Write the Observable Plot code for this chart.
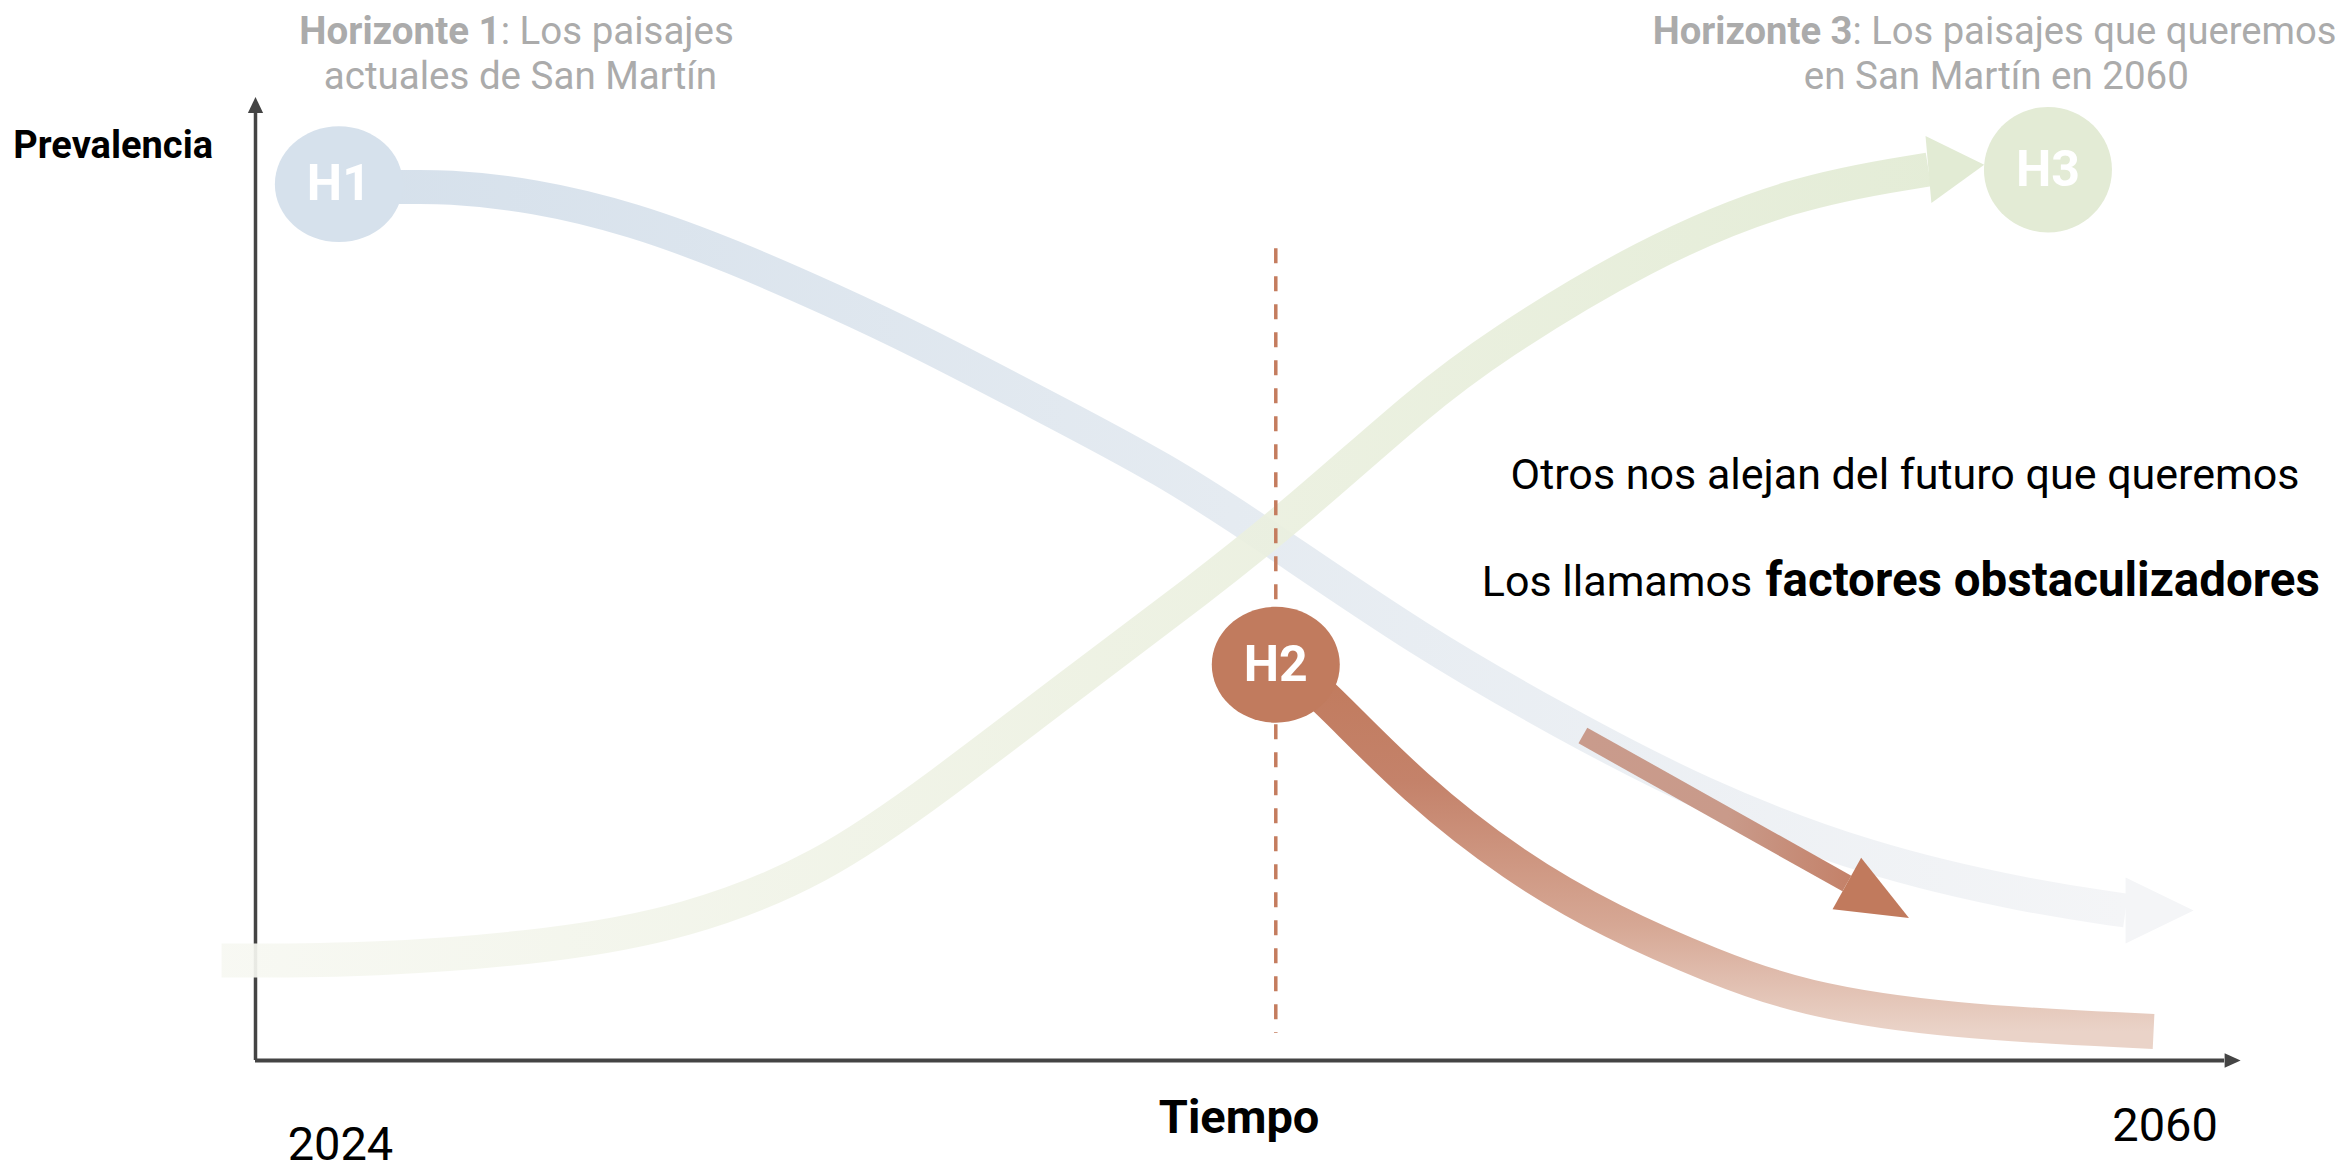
<!DOCTYPE html>
<html>
<head>
<meta charset="utf-8">
<script src="https://cdn.jsdelivr.net/npm/d3@7"></script>
<script src="https://cdn.jsdelivr.net/npm/@observablehq/plot@0.6"></script>
<style>
  html, body { margin: 0; padding: 0; background: #ffffff; overflow: hidden; }
  #chart svg { display: block; }
</style>
</head>
<body>
<div id="chart"></div>
<script>
// ---------- DATA (time: 0-100 along the x axis, prevalence: 0-100 along the y axis) ----------
const horizonNames = ["H1", "H2", "H3"];
const horizonTime  = [4.2, 51.4, 90.3];
const horizonPrev  = [91.0, 41.1, 92.5];

// H1: current landscapes, declining
const h1Time = [4.18, 7.46, 9.47, 14.01, 19.04, 24.08, 29.12, 33.50, 39.19, 45.94, 50.98, 58.69, 65.74, 72.80, 81.21, 89.57, 94.21];
const h1Prev = [90.76, 90.65, 90.81, 89.88, 87.38, 83.49, 78.92, 74.66, 68.54, 61.27, 54.41, 43.51, 35.20, 27.52, 20.77, 16.93, 15.58];

// H3: desired landscapes, rising
const h3Time = [-1.71, 5.94, 14.96, 21.71, 28.46, 34.51, 40.91, 47.61, 52.64, 58.69, 62.37, 69.87, 77.43, 84.28];
const h3Prev = [10.38, 10.38, 11.84, 14.33, 19.73, 28.56, 38.73, 49.01, 57.32, 68.43, 74.14, 83.70, 90.24, 92.52];

// H2: transition path (obstacles)
const h2Time = [52.64, 54.16, 58.34, 63.38, 68.41, 73.45, 77.83, 85.19, 95.62];
const h2Prev = [39.98, 37.18, 28.35, 20.15, 14.23, 9.76, 6.44, 4.05, 3.01];

// Obstacle arrow (start, end of shaft)
const obstacleTime = [66.87, 80.17];
const obstaclePrev = [33.75, 18.38];

// Present marker (dashed line at H2): top, bottom
const presentTime = [51.4];
const presentPrev = [84.3, 2.8];

// Text
const timeLabels = ["2024", "2060"];
const xTitle = "Tiempo";
const yTitle = "Prevalencia";
const h1Title = ["Horizonte 1", ": Los paisajes", "actuales de San Martín"];
const h3Title = ["Horizonte 3", ": Los paisajes que queremos", "en San Martín en 2060"];
const noteLine1 = "Otros nos alejan del futuro que queremos";
const noteLine2 = ["Los llamamos", "factores obstaculizadores"];

// ---------- STYLE ----------
const FONT = "Roboto, 'Open Sans', sans-serif";
const zip = (a, b) => a.map((v, i) => ({t: v, p: b[i]}));
const horizons = horizonNames.map((name, i) => ({name, t: horizonTime[i], p: horizonPrev[i]}));
const horizonFill = {H1: "#d6e1ec", H2: "#c17b5e", H3: "#e3ebd5"};

function arrowHead(ratio) {
  return {
    draw(ctx, size) {
      const l = Math.sqrt(size / Math.PI), w = l * ratio / 2;
      ctx.moveTo(l, 0); ctx.lineTo(0, w); ctx.lineTo(0, -w); ctx.closePath();
    }
  };
}
function ellipse(ratio) {
  return {
    draw(ctx, size) {
      const rx = Math.sqrt(size / Math.PI), ry = rx * ratio, k = 0.5523;
      ctx.moveTo(rx, 0);
      ctx.bezierCurveTo(rx, ry * k, rx * k, ry, 0, ry);
      ctx.bezierCurveTo(-rx * k, ry, -rx, ry * k, -rx, 0);
      ctx.bezierCurveTo(-rx, -ry * k, -rx * k, -ry, 0, -ry);
      ctx.bezierCurveTo(rx * k, -ry, rx, -ry * k, rx, 0);
      ctx.closePath();
    }
  };
}

const h1Data = zip(h1Time, h1Prev);
const h3Data = zip(h3Time, h3Prev);
const h2Data = zip(h2Time, h2Prev);
const obsData = zip(obstacleTime, obstaclePrev);

const labelGray = "#ababab";

const svg = Plot.plot({
  width: 2341,
  height: 1172,
  margin: 0,
  x: {domain: [0, 100], range: [255, 2240], axis: null},
  y: {domain: [0, 100], range: [1060, 97], axis: null},
  style: {fontFamily: FONT, background: "#ffffff"},
  marks: [
    // axes
    Plot.ruleY([0], {x1: 0, x2: 99.2, stroke: "#444444", strokeWidth: 4}),
    Plot.ruleX([0], {y1: 0, y2: 98.4, stroke: "#444444", strokeWidth: 3.5}),
    Plot.dot([[99.2, 0]], {x: d => d[0], y: d => d[1], symbol: arrowHead(0.9), r: 16, fill: "#444444", stroke: "none"}),
    Plot.dot([[0, 98.4]], {x: d => d[0], y: d => d[1], symbol: arrowHead(0.95), r: 16, fill: "#444444", stroke: "none", rotate: -90}),

    // H1 curve (blue)
    Plot.line(h1Data, {x: "t", y: "p", curve: "basis", stroke: "url(#gBlue)", strokeWidth: 34, strokeLinecap: "butt"}),
    Plot.dot([h1Data[h1Data.length - 1]], {x: "t", y: "p", symbol: arrowHead(0.97), r: 68, fill: "#f4f5f7", stroke: "none"}),

    // H3 curve (green)
    Plot.line(h3Data, {x: "t", y: "p", curve: "basis", stroke: "url(#gGreen)", strokeWidth: 34, strokeLinecap: "butt", strokeOpacity: 0.92}),
    Plot.dot([h3Data[h3Data.length - 1]], {x: "t", y: "p", symbol: arrowHead(1.2), r: 56, fill: "#e2ebd4", stroke: "none", rotate: -5}),

    // dashed present line
    Plot.ruleX(presentTime, {y1: presentPrev[0], y2: presentPrev[1], stroke: "#c47c5e", strokeWidth: 3.5, strokeDasharray: "15,13"}),

    // H2 curve (brown)
    Plot.line(h2Data, {x: "t", y: "p", curve: "basis", stroke: "url(#gBrown)", strokeWidth: 35, strokeLinecap: "butt"}),

    // obstacle arrow
    Plot.line(obsData, {x: "t", y: "p", stroke: "url(#gArrow)", strokeWidth: 18, strokeLinecap: "butt"}),
    Plot.dot([obsData[1]], {x: "t", y: "p", symbol: arrowHead(0.83), r: 71, fill: "#c17a5d", stroke: "none", rotate: 29}),

    // horizon circles
    Plot.dot(horizons.filter(d => d.name !== "H3"), {x: "t", y: "p", symbol: ellipse(0.905), r: 64, fill: d => horizonFill[d.name], stroke: "none"}),
    Plot.dot(horizons.filter(d => d.name === "H3"), {x: "t", y: "p", symbol: ellipse(0.98), r: 64, fill: d => horizonFill[d.name], stroke: "none"}),
    Plot.text(horizons, {x: "t", y: "p", text: "name", fill: "#ffffff", fontSize: 50, fontWeight: "bold", lineAnchor: "middle", textAnchor: "middle"}),

    // horizon titles
    Plot.text([h1Title[0]], {x: 12.35, y: 105.6, text: d => d, fill: labelGray, fontSize: 38.5, fontWeight: "bold", textAnchor: "end", lineAnchor: "bottom"}),
    Plot.text([h1Title[1]], {x: 12.35, y: 105.6, text: d => d, fill: labelGray, fontSize: 38.5, textAnchor: "start", lineAnchor: "bottom"}),
    Plot.text([h1Title[2]], {x: 13.35, y: 100.9, text: d => d, fill: labelGray, fontSize: 38.5, textAnchor: "middle", lineAnchor: "bottom"}),
    Plot.text([h3Title[0]], {x: 80.45, y: 105.6, text: d => d, fill: labelGray, fontSize: 38.2, fontWeight: "bold", textAnchor: "end", lineAnchor: "bottom"}),
    Plot.text([h3Title[1]], {x: 80.45, y: 105.6, text: d => d, fill: labelGray, fontSize: 38.2, textAnchor: "start", lineAnchor: "bottom"}),
    Plot.text([h3Title[2]], {x: 87.7, y: 100.9, text: d => d, fill: labelGray, fontSize: 38.5, textAnchor: "middle", lineAnchor: "bottom"}),

    // annotation
    Plot.text([noteLine1], {x: 83.1, y: 59.3, text: d => d, fill: "#000000", fontSize: 43, textAnchor: "middle", lineAnchor: "bottom"}),
    Plot.text([noteLine2[0]], {x: 75.4, y: 48.2, text: d => d, fill: "#000000", fontSize: 43, textAnchor: "end", lineAnchor: "bottom"}),
    Plot.text([noteLine2[1]], {x: 76.07, y: 48.2, text: d => d, fill: "#000000", fontSize: 47.5, fontWeight: "bold", textAnchor: "start", lineAnchor: "bottom"}),

    // axis labels
    Plot.text([yTitle], {x: -7.17, y: 93.67, text: d => d, fill: "#000000", fontSize: 38, fontWeight: "bold", textAnchor: "middle", lineAnchor: "bottom"}),
    Plot.text([xTitle], {x: 49.55, y: -7.58, text: d => d, fill: "#000000", fontSize: 47, fontWeight: "bold", textAnchor: "middle", lineAnchor: "bottom"}),
    Plot.text([timeLabels[0]], {x: 4.28, y: -10.3, text: d => d, fill: "#000000", fontSize: 47, textAnchor: "middle", lineAnchor: "bottom"}),
    Plot.text([timeLabels[1]], {x: 96.2, y: -8.31, text: d => d, fill: "#000000", fontSize: 47, textAnchor: "middle", lineAnchor: "bottom"})
  ]
});

// gradients
const defs = d3.select(svg).insert("defs", ":first-child");
function grad(id, stops, vertical) {
  const g = defs.append("linearGradient").attr("id", id)
    .attr("x1", 0).attr("y1", 0).attr("x2", vertical ? 0 : 1).attr("y2", vertical ? 1 : 0);
  stops.forEach(([o, c]) => g.append("stop").attr("offset", o).attr("stop-color", c));
}
grad("gBlue", [[0, "#d5e0eb"], [0.5, "#e5ebf1"], [1, "#f4f5f7"]], false);
grad("gGreen", [[0, "#f7f8f2"], [0.5, "#edf1e2"], [1, "#e2ebd4"]], false);
grad("gBrown", [[0, "#c17b5e"], [0.3, "#c4826a"], [0.7, "#d6a794"], [1, "#ead3c8"]], true);
grad("gArrow", [[0, "#c99b8c"], [0.55, "#c99a8a"], [1, "#c4826a"]], false);

document.getElementById("chart").appendChild(svg);
</script>
</body>
</html>
